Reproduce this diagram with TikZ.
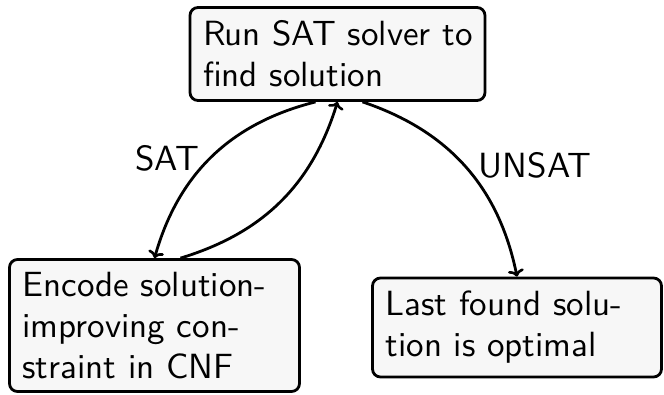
\documentclass[tikz,border=0pt]{standalone}
\usepackage{fontspec}
\newfontfamily\lmsten{lmsans10-regular}[Extension=.otf]
\usetikzlibrary{arrows.meta}
\definecolor{boxfill}{HTML}{F7F7F7}
\tikzset{
  x=1pt, y=-1pt,
  stepbox/.style={draw=black, line width=2.8pt, rounded corners=8pt, fill=boxfill,
    align=left, inner xsep=13pt, inner ysep=0pt, font=\lmsten\fontsize{35}{41}\selectfont},
  lbl/.style={font=\lmsten\fontsize{35}{41}\selectfont, inner sep=0pt},
  conn/.style={line width=2.8pt, -{To[length=7pt,width=16pt,line width=2.6pt]}}
}
\hbadness=10000 \hfuzz=50pt
\begin{document}
\begin{tikzpicture}
\useasboundingbox (0,0) rectangle (664,394);
\node[stepbox, text width=269pt, minimum height=93pt] (top) at (337.5,54) {\mbox{Run SAT solver to}\\\mbox{find solution}};
\node[stepbox, text width=264pt, minimum height=132pt] (left) at (154.5,325.5) {\mbox{Encode solution-}\\\mbox{improving con-}\\\mbox{straint in CNF}};
\node[stepbox, text width=263pt, minimum height=99pt] (right) at (517,327.5) {\mbox{Last found solu-}\\\mbox{tion is optimal}};
\node[lbl] (sat) at (167,158) {SAT};
\node[lbl] (unsat) at (535,165) {UNSAT};
\draw[conn] ([xshift=-22pt]top.south) to[bend right=30] ([xshift=0pt]left.north);
\draw[conn] ([xshift=26pt]left.north) to[bend right=28] ([xshift=0pt]top.south);
\draw[conn] ([xshift=25pt]top.south) to[bend left=30] ([xshift=0pt]right.north);
\end{tikzpicture}
\end{document}
